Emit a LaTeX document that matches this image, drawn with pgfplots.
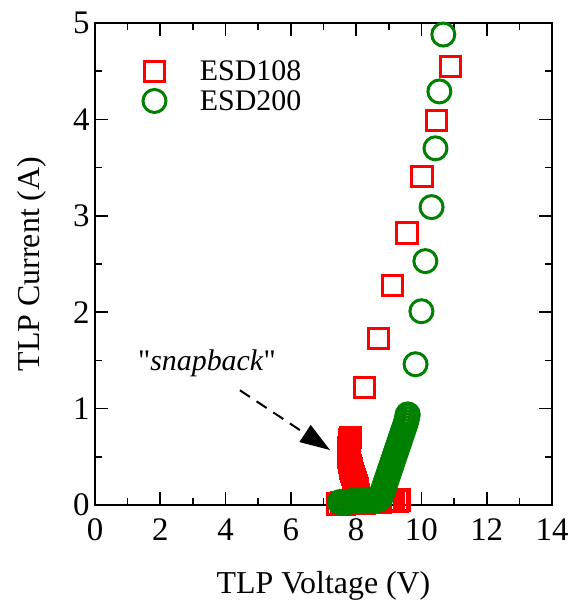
\documentclass[border=0pt]{standalone}
\usepackage{pgfplots}
\pgfplotsset{compat=1.18}
\usepackage{fontspec}
\setmainfont{Liberation Serif}
\newfontfamily\qfont{Liberation Serif}[Ligatures=TeXOff]
\usetikzlibrary{arrows.meta}
\definecolor{myred}{RGB}{255,0,0}
\definecolor{mygreen}{RGB}{0,128,0}
\begin{document}
\begin{tikzpicture}
\useasboundingbox (-95bp,-102bp) rectangle (473bp,505bp);
\begin{axis}[
  at={(0,0)}, anchor=south west,
  scale only axis, width=457bp, height=482bp,
  xmin=0, xmax=14, ymin=0, ymax=5,
  xtick={0,2,...,14}, minor xtick={1,3,...,13},
  ytick={0,1,...,5}, minor ytick={0.5,1.5,...,4.5},
  tick align=inside, tick pos=both,
  major tick length=13bp, minor tick length=7bp,
  axis line style={line width=1.8bp},
  tick style={line width=1.6bp, black},
  minor tick style={line width=1.6bp, black},
  /pgf/number format/assume math mode=true,
  tick label style={font=\fontsize{33}{36}\selectfont},
  xticklabel style={yshift=-10bp},
  yticklabel style={xshift=-2bp},
  label style={font=\fontsize{32}{36}\selectfont},
  xlabel={TLP Voltage (V)}, ylabel={TLP Current (A)},
  xlabel style={yshift=-24bp},
  ylabel style={yshift=20bp},
  legend style={draw=none, fill=none, at={(0.098,0.93)}, anchor=north west,
    font=\fontsize{30}{33}\selectfont, row sep=4bp},
  legend cell align=left,
]
\addplot[only marks, mark=square, mark size=10.2bp, line width=3bp, draw=myred]
coordinates {
(7.45,0.01)(7.55,0.02)(7.65,0.01)(7.75,0.02)(7.85,0.02)(7.95,0.02)(8.05,0.02)
(8.15,0.03)(8.25,0.02)(8.35,0.03)(8.45,0.03)(8.55,0.03)(8.65,0.03)(8.75,0.03)
(8.85,0.04)(8.95,0.04)(9.05,0.04)(9.15,0.04)(9.25,0.04)(9.33,0.05)
(8.08,0.08)(8.07,0.11)(8.05,0.14)(8.03,0.17)(8.01,0.20)(7.98,0.23)(7.95,0.26)
(7.92,0.29)(7.89,0.32)(7.86,0.35)(7.84,0.38)(7.82,0.41)(7.8,0.44)(7.79,0.47)
(7.78,0.50)(7.78,0.53)(7.78,0.56)(7.78,0.59)(7.79,0.62)(7.79,0.65)(7.8,0.68)
(7.82,0.70)
(8.25,1.22)(8.68,1.73)(9.11,2.28)(9.56,2.82)(10.02,3.41)(10.46,3.99)(10.89,4.55)
};
\addlegendentry{\hspace{32bp}ESD108}
\addplot[only marks, mark=o, mark size=11.5bp, line width=3bp, draw=mygreen]
coordinates {
(7.5,0.03)(7.58,0.03)(7.66,0.03)(7.75,0.03)(7.84,0.04)(7.93,0.04)(8.02,0.04)
(8.12,0.04)(8.22,0.04)(8.32,0.05)(8.42,0.05)(8.52,0.05)(8.62,0.05)(8.7,0.06)
(8.75,0.08)(8.78,0.11)(8.81,0.14)(8.84,0.17)(8.87,0.20)(8.9,0.23)(8.93,0.26)
(8.96,0.29)(8.99,0.32)(9.02,0.35)(9.05,0.38)(9.08,0.41)(9.11,0.44)(9.14,0.47)
(9.17,0.50)(9.2,0.53)(9.23,0.56)(9.26,0.59)(9.29,0.62)(9.32,0.65)(9.35,0.68)
(9.38,0.71)(9.41,0.74)(9.44,0.77)(9.47,0.80)(9.5,0.83)(9.53,0.86)(9.55,0.89)
(9.57,0.92)(9.58,0.94)
(9.82,1.46)(10.0,2.01)(10.12,2.53)(10.31,3.09)(10.43,3.70)(10.55,4.29)(10.67,4.88)
};
\addlegendentry{\hspace{32bp}ESD200}
\draw[line width=2bp, dash pattern=on 12bp off 8bp, -{Triangle[length=30bp,width=20bp]}]
  (axis cs:4.44,1.19) -- (axis cs:7.2,0.57);
\node[font=\fontsize{30}{33}\selectfont] at (axis cs:3.43,1.47) {{\qfont"}\textit{snapback}{\qfont"}};
\end{axis}
\end{tikzpicture}
\end{document}
